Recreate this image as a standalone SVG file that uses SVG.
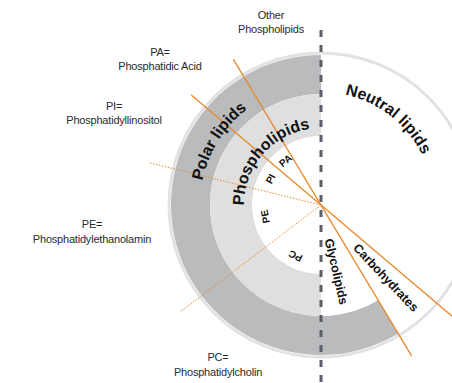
<svg xmlns="http://www.w3.org/2000/svg" xmlns:xlink="http://www.w3.org/1999/xlink" width="452" height="383" viewBox="0 0 452 383">
<style>
.lbl{font-family:"Liberation Sans",Arial,sans-serif;font-size:11px;letter-spacing:-0.2px;fill:#2b2b2b;text-anchor:middle}
.big{font-family:"Liberation Sans",Arial,sans-serif;font-size:16px;font-weight:bold;fill:#111;text-anchor:middle}
.mid{font-family:"Liberation Sans",Arial,sans-serif;font-size:12.5px;font-weight:bold;fill:#111;text-anchor:middle}
.sm{font-family:"Liberation Sans",Arial,sans-serif;font-size:10px;font-weight:bold;fill:#111;text-anchor:middle}
.or{stroke:#e8892e;stroke-width:1.3;fill:none}
.dot{stroke:#e8892e;stroke-width:1;stroke-dasharray:1.5 1.5;fill:none}
</style>
<defs>
<path id="arcPolar" d="M 205.92 242.39 A 121 121 0 0 1 304.16 85.18"/>
<path id="arcPhos" d="M 245.01 217.44 A 77 77 0 0 1 321.94 128.0"/>
<path id="arcNeutral" d="M 297.51 94.47 A 113 113 0 0 1 433.93 201.06"/>
</defs>
<rect width="452" height="383" fill="#fff"/>
<g id="rings">
<circle cx="321" cy="205" r="152" fill="none" stroke="#e2e2e2" stroke-width="3"/>
<path id="polar-band" d="M 398.25 333.58 A 150 150 0 1 1 321 55 L 321 94 A 111 111 0 1 0 378.17 300.15 Z" fill="#b9bbbd"/>
<path id="phospholipid-band" d="M 321 94 A 111 111 0 0 0 321 316 L 321 274 A 69 69 0 0 1 321 136 Z" fill="#dfdfe0"/>
</g>
<g id="connectors">
<line x1="321" y1="30" x2="321" y2="383" stroke="#5b5f68" stroke-width="3" stroke-dasharray="7 8"/>
<line class="or" x1="233.4" y1="59.3" x2="411.6" y2="355.9"/>
<line class="or" x1="191.3" y1="95.0" x2="458.3" y2="321.4"/>
<line class="dot" x1="150.1" y1="163.0" x2="321" y2="205"/>
<line class="dot" x1="321" y1="205" x2="180.0" y2="312.0"/>
</g>
<g id="polar-lipids"><text class="big"><textPath xlink:href="#arcPolar" href="#arcPolar" startOffset="50%">Polar lipids</textPath></text></g>
<g id="phospholipids"><text class="big"><textPath xlink:href="#arcPhos" href="#arcPhos" startOffset="50%">Phospholipids</textPath></text></g>
<g id="neutral-lipids"><text class="big"><textPath xlink:href="#arcNeutral" href="#arcNeutral" startOffset="50%">Neutral lipids</textPath></text></g>
<g id="glycolipids"><text class="mid" transform="translate(336.5 271.5) rotate(76.9)" y="4.4">Glycolipids</text></g>
<g id="carbohydrates"><text class="mid" transform="translate(386 277.5) rotate(46.5)" y="4.4">Carbohydrates</text></g>
<g id="pa"><text class="sm" transform="translate(285.4 160.5) rotate(-38.7)" y="3.6">PA</text></g>
<g id="pi"><text class="sm" transform="translate(270.4 178.7) rotate(-62.5)" y="3.6">PI</text></g>
<g id="pe"><text class="sm" transform="translate(265.2 216.6) rotate(-101.7)" y="3.6">PE</text></g>
<g id="pc"><text class="sm" transform="translate(295.5 256) rotate(206.6)" y="3.6">PC</text></g>
<g id="label-other"><text class="lbl" x="271" y="19">Other</text><text class="lbl" x="271" y="32.5">Phospholipids</text></g>
<g id="label-pa"><text class="lbl" x="160" y="56">PA=</text><text class="lbl" x="160" y="70">Phosphatidic Acid</text></g>
<g id="label-pi"><text class="lbl" x="114" y="110">PI=</text><text class="lbl" x="114" y="124">Phosphatidyllinositol</text></g>
<g id="label-pe"><text class="lbl" x="92" y="228">PE=</text><text class="lbl" x="92" y="243">Phosphatidylethanolamin</text></g>
<g id="label-pc"><text class="lbl" x="218" y="361">PC=</text><text class="lbl" x="218" y="376">Phosphatidylcholin</text></g>
</svg>
